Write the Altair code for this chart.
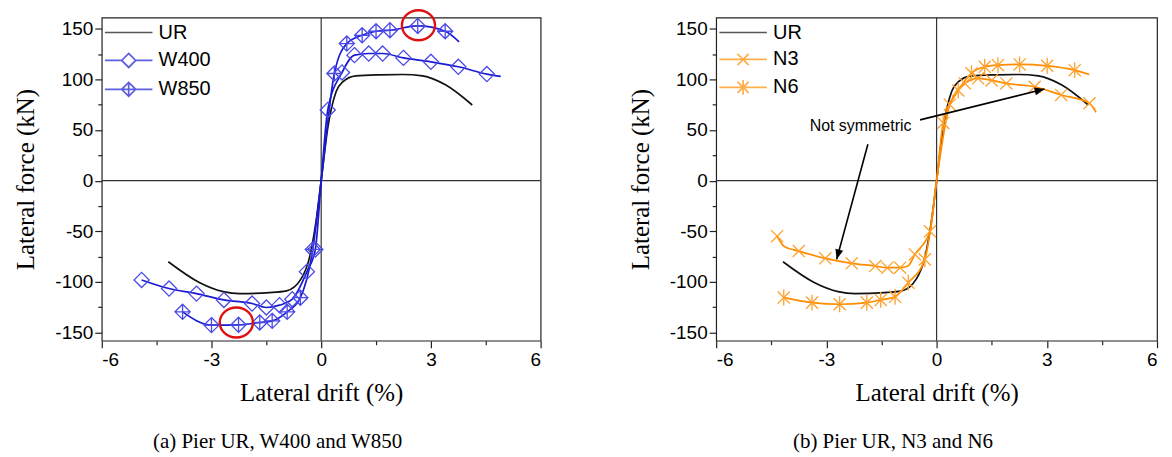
import math
import altair as alt
import pandas as pd

# ---------------- data ----------------
X_TICKS = [-6, -4.5, -3, -1.5, 0, 1.5, 3, 4.5, 6]
Y_TICKS = [-150, -125, -100, -75, -50, -25, 0, 25, 50, 75, 100, 125, 150]

UR_X = [-4.18, -3.32, -2.68, -2.23, -1.41, -0.95, -0.55, -0.32, -0.14, 0.0, 0.18, 0.41, 0.59, 0.95, 1.6, 2.23, 2.77, 3.41, 4.13]
UR_Y = [-80, -100.7, -109.5, -111.5, -110.5, -108.8, -97, -76, -40, 0, 52, 88, 97.6, 103.5, 104.5, 104.8, 103.5, 94.4, 74.7]
UR_M = [0] * len(UR_X)

W400_X = [-4.91, -4.16, -3.41, -2.66, -1.89, -1.50, -1.14, -0.79, -0.39, -0.16, 0.0, 0.18, 0.57, 0.91, 1.30, 1.68, 2.25, 3.00, 3.75, 4.53, 4.91]
W400_Y = [-98, -106.5, -111.5, -117.7, -121.3, -125.2, -122.9, -117, -89.8, -67.9, 0, 69.8, 106.8, 123.9, 125.5, 125.5, 121.2, 117.3, 112.4, 105.2, 102.9]
W400_M = [1, 1, 1, 1, 1, 1, 1, 1, 1, 1, 0, 1, 1, 1, 1, 1, 1, 1, 1, 1, 0]

W850_X = [-3.79, -3.00, -2.26, -1.68, -1.34, -0.93, -0.57, -0.23, 0.0, 0.36, 0.70, 1.12, 1.50, 1.88, 2.64, 3.39, 3.77]
W850_Y = [-129.5, -142.6, -142.3, -140, -138.4, -129.5, -115.5, -67.9, 0, 105.8, 135.3, 143.5, 147.5, 148.5, 152.7, 147.5, 137]
W850_M = [1, 1, 1, 1, 1, 1, 1, 1, 0, 1, 1, 1, 1, 1, 1, 1, 0]

N3_X = [-4.34, -4.16, -3.75, -3.03, -2.31, -1.67, -1.34, -0.99, -0.77, -0.59, -0.18, 0.0, 0.36, 0.77, 1.13, 1.50, 1.90, 2.67, 3.39, 4.16, 4.34]
N3_Y = [-54.8, -64.6, -69.5, -76.7, -81.6, -84.3, -85.9, -85.9, -84.0, -72.8, -50, 0, 75, 96, 101, 99, 96, 92.7, 84.6, 76.3, 67.5]
N3_M = [1, 0, 1, 1, 1, 1, 1, 1, 0, 1, 1, 0, 1, 1, 1, 1, 1, 1, 1, 1, 0]

N6_X = [-4.16, -3.39, -2.64, -1.90, -1.52, -1.13, -0.77, -0.32, 0.0, 0.18, 0.59, 0.95, 1.31, 1.67, 2.26, 3.01, 3.76, 4.16]
N6_Y = [-115.4, -120.4, -122, -120.4, -117.7, -114.7, -100.7, -77.7, 0, 57, 89, 106, 112.4, 114, 114.7, 113.4, 109.1, 104.8]
N6_M = [1, 1, 1, 1, 1, 1, 1, 1, 0, 1, 1, 1, 1, 1, 1, 1, 1, 0]

CIRCLE_X = [2.66, -2.32]
CIRCLE_Y = [153.4, -140]

NOTE_TEXT = ["Not symmetric"]
NOTE_X = [-2.07]
NOTE_Y = [54.4]
ARROW_X1 = [-0.45, -1.87]
ARROW_Y1 = [60, 36]
ARROW_X2 = [2.94, -2.72]
ARROW_Y2 = [90.4, -77.7]

CAPTION_A = "(a)  Pier UR, W400 and W850"
CAPTION_B = "(b)  Pier UR, N3 and N6"

# ---------------- styling ----------------
X_DOMAIN = [-6, 6]
Y_DOMAIN = [-158, 161]
H = 324
W_LEFT, W_RIGHT = 440, 442

BLACK = "#111111"
BLUE = "#1a1ad2"
BLUE_MK = "#4a4ae6"
ORANGE = "#ff8c00"
ORANGE_MK = "#ffa02a"

DIAMOND = "M0,-1L1,0L0,1L-1,0Z"
DIAMOND_X = "M0,-1L1,0L0,1L-1,0ZM0,-1L0,1M-1,0L1,0"
CROSS = "M-0.8,-0.8L0.8,0.8M-0.8,0.8L0.8,-0.8"
STAR = "M-0.8,-0.8L0.8,0.8M-0.8,0.8L0.8,-0.8M0,-1.05L0,1.05"
LINE = "M-3.4,0L3.4,0"
LEG_UR = LINE
LEG_W400 = "M-3.4,0L-1,0M1,0L3.4,0" + DIAMOND
LEG_W850 = LINE + DIAMOND_X
LEG_N3 = LINE + CROSS
LEG_N6 = LINE + STAR
ELLIPSE = "M-1.05,0A1.05,0.95 0 1,0 1.05,0A1.05,0.95 0 1,0 -1.05,0Z"


def frame(names, xs, ys, ms):
    rows = []
    for n, X, Y, M in zip(names, xs, ys, ms):
        for i, (a, b, m) in enumerate(zip(X, Y, M)):
            rows.append({"series": n, "x": a, "y": b, "marked": bool(m), "i": i})
    return pd.DataFrame(rows)


def xenc(field="x"):
    return alt.X(
        f"{field}:Q",
        scale=alt.Scale(domain=X_DOMAIN, nice=False, zero=False),
        title="Lateral drift (%)",
        axis=alt.Axis(
            values=X_TICKS,
            labelExpr="datum.value % 3 === 0 ? '' + datum.value : ''",
            tickSize={"condition": {"test": "datum.value % 3 === 0", "value": 7}, "value": 4},
            labelPadding=3,
            titlePadding=11,
        ),
    )


def yenc(field="y"):
    return alt.Y(
        f"{field}:Q",
        scale=alt.Scale(domain=Y_DOMAIN, nice=False, zero=False),
        title="Lateral force (kN)",
        axis=alt.Axis(
            values=Y_TICKS,
            labelExpr="datum.value % 50 === 0 ? '' + datum.value : ''",
            tickSize={"condition": {"test": "datum.value % 50 === 0", "value": 7}, "value": 4},
            labelPadding=2,
            titlePadding=16,
        ),
    )


def panel(df, names, line_colors, mk_names, mk_paths, mk_colors, leg_paths, caption, width, extra):
    zero = pd.DataFrame({"x": [0], "y": [0]})
    vline = alt.Chart(zero).mark_rule(color="#333333", strokeWidth=1.2).encode(x=xenc())
    hline = alt.Chart(zero).mark_rule(color="#333333", strokeWidth=1.2).encode(y=yenc())

    color = alt.Color("series:N", scale=alt.Scale(domain=names, range=line_colors), legend=None)
    lines = alt.Chart(df).mark_line(interpolate="monotone", strokeWidth=1.7).encode(
        x=xenc(), y=yenc(), color=color, order="i:Q", detail="series:N"
    )
    pts = alt.Chart(df).transform_filter("datum.marked").mark_point(
        filled=False, size=230, strokeWidth=1.3, opacity=1
    ).encode(
        x=xenc(), y=yenc(),
        shape=alt.Shape("series:N", scale=alt.Scale(domain=mk_names, range=mk_paths), legend=None),
        stroke=alt.Stroke("series:N", scale=alt.Scale(domain=mk_names, range=mk_colors), legend=None),
    )
    leg = alt.Legend(
        title=None, orient="none", legendX=5, legendY=5,
        symbolSize=196, symbolStrokeWidth=1.7, symbolOffset=12, labelOffset=20,
        labelFont="Liberation Sans", labelFontSize=20, labelColor="black",
        rowPadding=7, padding=0, labelLimit=300, symbolFillColor="transparent",
    )
    legend_layer = alt.Chart(df).transform_filter("false").mark_point(filled=False, size=196).encode(
        x=xenc(), y=yenc(),
        stroke=alt.Stroke("series:N", scale=alt.Scale(domain=names, range=line_colors), legend=leg),
        shape=alt.Shape("series:N", scale=alt.Scale(domain=names, range=leg_paths), legend=leg),
    )
    layers = [vline, hline, lines, pts] + extra + [legend_layer]
    return alt.layer(*layers).resolve_scale(shape="independent", stroke="independent").properties(
        width=width, height=H,
        title=alt.TitleParams(
            caption, orient="bottom", font="Liberation Serif", fontSize=21,
            fontWeight="normal", color="black", offset=26, frame="bounds", anchor="middle",
        ),
    )


# left panel
df_a = frame(["UR", "W400", "W850"], [UR_X, W400_X, W850_X], [UR_Y, W400_Y, W850_Y], [UR_M, W400_M, W850_M])
circles = alt.Chart(pd.DataFrame({"x": CIRCLE_X, "y": CIRCLE_Y})).mark_point(
    shape=ELLIPSE, size=1000, filled=False, stroke="#e01010", strokeWidth=2.4, opacity=1
).encode(x=xenc(), y=yenc())
left = panel(
    df_a, ["UR", "W400", "W850"], [BLACK, BLUE, BLUE],
    ["W400", "W850"], [DIAMOND, DIAMOND_X], [BLUE_MK, BLUE_MK],
    [LEG_UR, LEG_W400, LEG_W850], CAPTION_A, W_LEFT, [circles],
)

# right panel
df_b = frame(["UR", "N3", "N6"], [UR_X, N3_X, N6_X], [UR_Y, N3_Y, N6_Y], [UR_M, N3_M, N6_M])
kx = W_RIGHT / (X_DOMAIN[1] - X_DOMAIN[0])
ky = H / (Y_DOMAIN[1] - Y_DOMAIN[0])
angles = []
for x1, y1, x2, y2 in zip(ARROW_X1, ARROW_Y1, ARROW_X2, ARROW_Y2):
    a = math.degrees(math.atan2(-(y2 - y1) * ky, (x2 - x1) * kx))
    angles.append(a % 360)
arrows_df = pd.DataFrame({"x": ARROW_X1, "y": ARROW_Y1, "x2": ARROW_X2, "y2": ARROW_Y2, "ang": angles})
arrow_lines = alt.Chart(arrows_df).mark_rule(color="black", strokeWidth=1.6).encode(
    x=xenc(), y=yenc(), x2="x2:Q", y2="y2:Q"
)
arrow_heads = alt.Chart(arrows_df).mark_point(
    shape="M0,0L-1,-0.4L-1,0.4Z", size=400, filled=True, color="black", opacity=1
).encode(x=xenc("x2"), y=yenc("y2"), angle=alt.Angle("ang:Q", scale=None))
note = alt.Chart(pd.DataFrame({"x": NOTE_X, "y": NOTE_Y, "t": NOTE_TEXT})).mark_text(
    font="Liberation Sans", fontSize=16, color="black", align="center", baseline="middle"
).encode(x=xenc(), y=yenc(), text="t:N")
right = panel(
    df_b, ["UR", "N3", "N6"], [BLACK, ORANGE, ORANGE],
    ["N3", "N6"], [CROSS, STAR], [ORANGE_MK, ORANGE_MK],
    [LEG_UR, LEG_N3, LEG_N6], CAPTION_B, W_RIGHT, [arrow_lines, arrow_heads, note],
)

chart = alt.hconcat(left, right, spacing=176, bounds="flush").resolve_scale(
    color="independent", shape="independent", stroke="independent"
).resolve_legend(stroke="independent", shape="independent").properties(
    padding={"left": 5, "top": -4, "right": 5, "bottom": 5}, background="white"
).configure_view(stroke="#222222", strokeWidth=1.2).configure_axis(
    labelFont="Liberation Sans", labelFontSize=19, labelColor="black",
    titleFont="Liberation Serif", titleFontSize=25, titleFontWeight="normal", titleColor="black",
    tickColor="#222222", tickWidth=1.2, domain=False, grid=False,
)

chart.save("out.html", embed_options={"renderer": "svg", "actions": False})
